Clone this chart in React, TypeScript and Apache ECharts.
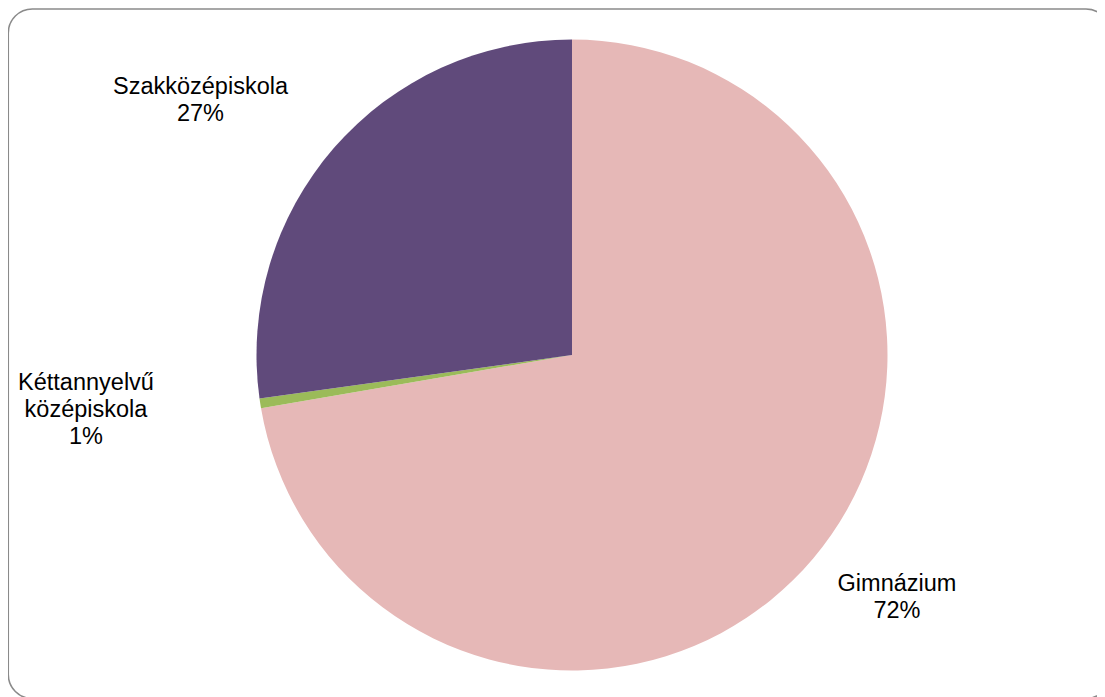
import React, { useEffect, useRef } from "react";
import * as echarts from "echarts";

const categories = ["Gimnázium", "Kéttannyelvű\nközépiskola", "Szakközépiskola"];
const values = [72.3, 0.5, 27.2];
const colors = ["#E6B8B7", "#9BBB59", "#604A7B"];
// label centre offsets from the pie centre (px)
const labelOffsets: [number, number][] = [
  [325, 241.5],
  [-486, 53.5],
  [-371.5, -256],
];

const W = 1097;
const H = 689;
const CX = 564;
const CY = 347;
const R = 315.5;

export default function App() {
  const ref = useRef<HTMLDivElement>(null);
  useEffect(() => {
    if (!ref.current) return;
    const chart = echarts.init(ref.current, undefined, { renderer: "svg" });
    const total = values.reduce((a, b) => a + b, 0);
    chart.setOption({
      animation: false,
      backgroundColor: "#ffffff",
      graphic: [
        {
          type: "rect",
          shape: { x: 0.3, y: 1, width: 1101.7, height: 689.5, r: 24 },
          style: { fill: "none", stroke: "#8a8a8a", lineWidth: 1.5 },
          silent: true,
        },
      ],
      series: [
        {
          type: "pie",
          center: [CX, CY],
          radius: [0, R],
          startAngle: 90,
          clockwise: true,
          avoidLabelOverlap: false,
          itemStyle: { borderWidth: 0 },
          label: {
            show: true,
            position: "outside",
            color: "#000000",
            fontFamily: 'Arial, "Liberation Sans", sans-serif',
            fontSize: 23.5,
            lineHeight: 27,
            align: "center",
            formatter: (p: any) => `${p.name}\n${Math.round((p.value / total) * 100)}%`,
          },
          labelLine: { show: false },
          labelLayout: (params: any) => {
            const off = labelOffsets[params.dataIndex];
            return {
              x: CX + off[0],
              y: CY + off[1],
              align: "center",
              verticalAlign: "middle",
            };
          },
          emphasis: { disabled: true },
          data: categories.map((name, i) => ({
            name,
            value: values[i],
            itemStyle: { color: colors[i] },
          })),
        },
      ],
    });
    return () => chart.dispose();
  }, []);
  return <div ref={ref} style={{ width: W, height: H }} />;
}
